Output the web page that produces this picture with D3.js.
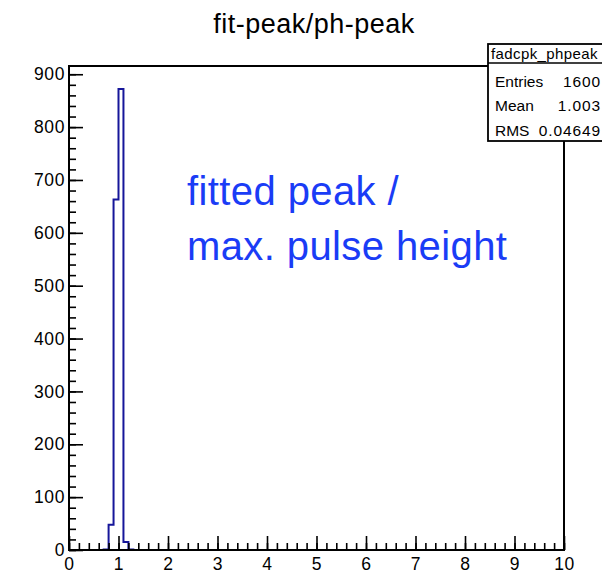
<!DOCTYPE html>
<html>
<head>
<meta charset="utf-8">
<script src="https://cdn.jsdelivr.net/npm/d3@7"></script>
<style>
  html, body { margin: 0; padding: 0; background: #fff; }
  svg { display: block; }
  text { font-family: "Liberation Sans", Arial, Helvetica, sans-serif; }
</style>
</head>
<body>
<svg id="chart" width="602" height="574"></svg>
<script>
// Histogram fadcpk_phpeak: ratio of fitted peak to maximum pulse height
const xMin = 0;
const xMax = 10;
const binCount = 100;
// lower edges of the filled bins and their contents
const filledBinLow = [0.7, 0.8, 0.9, 1.0, 1.1, 1.2];
const filledBinCounts = [1, 48, 663, 872, 15, 1];

const xTickValues = [0, 1, 2, 3, 4, 5, 6, 7, 8, 9, 10];
const yTickValues = [0, 100, 200, 300, 400, 500, 600, 700, 800, 900];

const statNames = ["Entries", "Mean", "RMS"];
const statValues = ["1600", "1.003", "0.04649"];

const histName = "fadcpk_phpeak";
const titleText = "fit-peak/ph-peak";
const noteLines = ["fitted peak /", "max. pulse height"];

const svg = d3.select("#chart");

const frame = { left: 69, right: 564, top: 66, bottom: 550 };

const binWidth = (xMax - xMin) / binCount;
const counts = new Array(binCount).fill(0);
filledBinLow.forEach((lo, i) => {
  counts[Math.round((lo - xMin) / binWidth)] = filledBinCounts[i];
});
const yMax = 1.05 * d3.max(counts);

const x = d3.scaleLinear().domain([xMin, xMax]).range([frame.left, frame.right]);
const y = d3.scaleLinear().domain([0, yMax]).range([frame.bottom, frame.top]);

// title
svg.append("text")
  .attr("x", 314).attr("y", 33)
  .attr("text-anchor", "middle")
  .attr("font-size", 27)
  .style("letter-spacing", "0.5px")
  .attr("fill", "#000")
  .text(titleText);

// histogram outline as a step curve
const stepPts = counts.map((c, i) => [xMin + i * binWidth, c]);
stepPts.push([xMax, counts[binCount - 1]]);
const line = d3.line()
  .x(d => x(d[0]))
  .y(d => y(d[1]))
  .curve(d3.curveStepAfter);

svg.append("path")
  .datum(stepPts)
  .attr("d", line)
  .attr("fill", "none")
  .attr("stroke", "#16169a")
  .attr("stroke-width", 2);

// annotation
const note = svg.append("text")
  .attr("font-size", 40)
  .style("letter-spacing", "0.4px")
  .attr("fill", "#1a3cf6");
noteLines.forEach((t, i) => {
  note.append("tspan").attr("x", 187).attr("y", 205 + i * 55).text(t);
});

// axes, ticks pointing into the frame
const xMinor = d3.range(xMin, xMax + 1e-9, 0.2);
const yMinor = d3.range(0, 900 + 1e-9, 20);

const gxMinor = svg.append("g")
  .attr("transform", `translate(0,${frame.bottom})`)
  .call(d3.axisBottom(x).tickValues(xMinor).tickSize(-7).tickFormat(""));
const gx = svg.append("g")
  .attr("transform", `translate(0,${frame.bottom})`)
  .call(d3.axisBottom(x).tickValues(xTickValues).tickSize(-14).tickPadding(8).tickFormat(d3.format("d")));

const gyMinor = svg.append("g")
  .attr("transform", `translate(${frame.left},0)`)
  .call(d3.axisLeft(y).tickValues(yMinor).tickSize(-7).tickFormat(""));
const gy = svg.append("g")
  .attr("transform", `translate(${frame.left},0)`)
  .call(d3.axisLeft(y).tickValues(yTickValues).tickSize(-14).tickPadding(4).tickFormat(d3.format("d")));

[gxMinor, gx, gyMinor, gy].forEach(g => {
  g.select(".domain").remove();
  g.selectAll(".tick line").attr("stroke", "#000").attr("stroke-width", 1.6);
});
[gx, gy].forEach(g => {
  g.selectAll("text")
    .attr("font-size", 17.5)
    .attr("fill", "#000")
    .style("font-family", "'Liberation Sans', Arial, sans-serif")
    .style("letter-spacing", "0.6px");
});

// frame
svg.append("rect")
  .attr("x", frame.left).attr("y", frame.top)
  .attr("width", frame.right - frame.left)
  .attr("height", frame.bottom - frame.top)
  .attr("fill", "none")
  .attr("stroke", "#000")
  .attr("stroke-width", 2);

// statistics box
const stat = svg.append("g");
stat.append("rect")
  .attr("x", 488).attr("y", 44)
  .attr("width", 140).attr("height", 97)
  .attr("fill", "#fff")
  .attr("stroke", "#000")
  .attr("stroke-width", 1.8);
stat.append("line")
  .attr("x1", 488).attr("x2", 628)
  .attr("y1", 63).attr("y2", 63)
  .attr("stroke", "#000").attr("stroke-width", 1.5);
stat.append("text")
  .attr("x", 491).attr("y", 59)
  .attr("font-size", 15)
  .style("letter-spacing", "0.4px")
  .text(histName);
const rowY = [87, 111, 136];
statNames.forEach((n, i) => {
  stat.append("text")
    .attr("x", 495).attr("y", rowY[i])
    .attr("font-size", 15.5)
    .text(n);
  stat.append("text")
    .attr("x", 601).attr("y", rowY[i])
    .attr("text-anchor", "end")
    .attr("font-size", 15.5)
    .style("letter-spacing", "0.9px")
    .text(statValues[i]);
});
</script>
</body>
</html>
